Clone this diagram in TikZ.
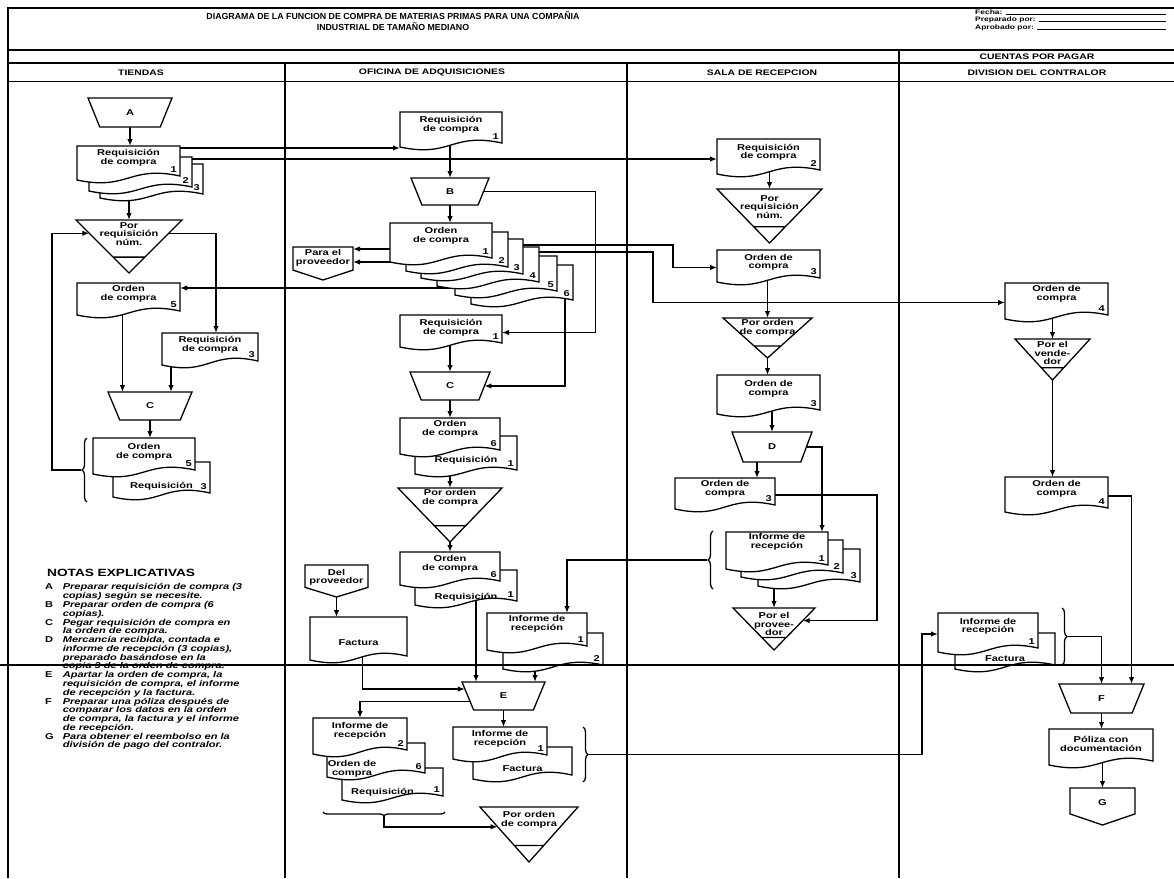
\documentclass[tikz,border=0pt]{standalone}
\usepackage{fontspec}
\usepackage{array}
\setmainfont{Liberation Sans}
\newfontfamily\docfam[FakeStretch=1.3]{Liberation Sans}
\usetikzlibrary{calc,arrows.meta,backgrounds,decorations.pathreplacing}

\newcommand\docf{\docfam\bfseries\fontsize{8.5}{8.5}\selectfont}
\newcommand\notef{\docfam\bfseries\fontsize{8.5}{8.6}\selectfont}
\newcommand\headf{\docfam\bfseries\fontsize{8}{9}\selectfont}
\newcommand\titlef{\bfseries\fontsize{8.8}{10.5}\selectfont}
\newcommand\smallf{\docfam\bfseries\fontsize{6.5}{8.5}\selectfont}

\makeatletter
\newdimen\shL \newdimen\shR \newdimen\shB \newdimen\shT \newdimen\shM
\newdimen\shI \newdimen\shY \newdimen\shYa \newdimen\shYb \newdimen\shYc
\def\shgetbox{\southwest \shL=\pgf@x \shB=\pgf@y
  \northeast \shR=\pgf@x \shT=\pgf@y
  \shM=.5\shL \advance\shM by .5\shR}
% document: flat top, wavy bottom
\pgfdeclareshape{docshape}{
  \inheritsavedanchors[from=rectangle]
  \inheritanchorborder[from=rectangle]
  \inheritanchor[from=rectangle]{center}
  \inheritanchor[from=rectangle]{north}
  \inheritanchor[from=rectangle]{east}
  \inheritanchor[from=rectangle]{west}
  \inheritanchor[from=rectangle]{north east}
  \inheritanchor[from=rectangle]{north west}
  \inheritanchor[from=rectangle]{south east}
  \inheritanchor[from=rectangle]{south west}
  \anchor{south}{\shgetbox \pgf@x=\shM \pgf@y=\shB \advance\pgf@y by 5pt}
  \backgroundpath{\shgetbox
    \shY=\shB \advance\shY by 7pt
    \shYa=\shB \advance\shYa by 18pt
    \shYb=\shB \advance\shYb by -8pt
    \shYc=\shB \advance\shYc by 3pt
    \pgfpathmoveto{\pgfqpoint{\shL}{\shT}}
    \pgfpathlineto{\pgfqpoint{\shR}{\shT}}
    \pgfpathlineto{\pgfqpoint{\shR}{\shY}}
    \pgfpathcurveto{\pgfqpoint{\shM}{\shYa}}{\pgfqpoint{\shM}{\shYb}}{\pgfqpoint{\shL}{\shYc}}
    \pgfpathclose}
}
% manual operation: wide side up
\pgfdeclareshape{manop}{
  \inheritsavedanchors[from=rectangle]
  \inheritanchorborder[from=rectangle]
  \inheritanchor[from=rectangle]{center}
  \inheritanchor[from=rectangle]{north}
  \inheritanchor[from=rectangle]{south}
  \inheritanchor[from=rectangle]{north east}
  \inheritanchor[from=rectangle]{north west}
  \anchor{east}{\shgetbox \shI=\shR \advance\shI by -\shL
    \pgf@x=\shR \advance\pgf@x by -.07\shI
    \pgf@y=.5\shB \advance\pgf@y by .5\shT}
  \anchor{west}{\shgetbox \shI=\shR \advance\shI by -\shL
    \pgf@x=\shL \advance\pgf@x by .07\shI
    \pgf@y=.5\shB \advance\pgf@y by .5\shT}
  \anchor{south east}{\shgetbox \shI=\shR \advance\shI by -\shL
    \pgf@x=\shR \advance\pgf@x by -.14\shI \pgf@y=\shB}
  \anchor{south west}{\shgetbox \shI=\shR \advance\shI by -\shL
    \pgf@x=\shL \advance\pgf@x by .14\shI \pgf@y=\shB}
  \backgroundpath{\shgetbox \shI=\shR \advance\shI by -\shL \shI=.14\shI
    \pgfpathmoveto{\pgfqpoint{\shL}{\shT}}
    \pgfpathlineto{\pgfqpoint{\shR}{\shT}}
    \advance\shR by -\shI \advance\shL by \shI
    \pgfpathlineto{\pgfqpoint{\shR}{\shB}}
    \pgfpathlineto{\pgfqpoint{\shL}{\shB}}
    \pgfpathclose}
}
% file: triangle with a bar near the apex
\pgfdeclareshape{filetri}{
  \inheritsavedanchors[from=rectangle]
  \inheritanchorborder[from=rectangle]
  \inheritanchor[from=rectangle]{center}
  \inheritanchor[from=rectangle]{north}
  \inheritanchor[from=rectangle]{south}
  \inheritanchor[from=rectangle]{north east}
  \inheritanchor[from=rectangle]{north west}
  \backgroundpath{\shgetbox
    \pgfpathmoveto{\pgfqpoint{\shL}{\shT}}
    \pgfpathlineto{\pgfqpoint{\shR}{\shT}}
    \pgfpathlineto{\pgfqpoint{\shM}{\shB}}
    \pgfpathclose
    \shI=\shR \advance\shI by -\shL \shI=.15\shI
    \shY=.7\shB \advance\shY by .3\shT
    \advance\shM by -\shI
    \pgfpathmoveto{\pgfqpoint{\shM}{\shY}}
    \advance\shM by 2\shI
    \pgfpathlineto{\pgfqpoint{\shM}{\shY}}}
}
% off-page connector
\pgfdeclareshape{offpage}{
  \inheritsavedanchors[from=rectangle]
  \inheritanchorborder[from=rectangle]
  \inheritanchor[from=rectangle]{center}
  \inheritanchor[from=rectangle]{north}
  \inheritanchor[from=rectangle]{south}
  \inheritanchor[from=rectangle]{east}
  \inheritanchor[from=rectangle]{west}
  \inheritanchor[from=rectangle]{north east}
  \inheritanchor[from=rectangle]{north west}
  \backgroundpath{\shgetbox
    \shY=.7\shB \advance\shY by .3\shT
    \pgfpathmoveto{\pgfqpoint{\shL}{\shT}}
    \pgfpathlineto{\pgfqpoint{\shR}{\shT}}
    \pgfpathlineto{\pgfqpoint{\shR}{\shY}}
    \pgfpathlineto{\pgfqpoint{\shM}{\shB}}
    \pgfpathlineto{\pgfqpoint{\shL}{\shY}}
    \pgfpathclose}
}
\makeatother

\tikzset{
  shp/.style={draw, fill=white, line width=1.3pt, inner sep=0pt, outer sep=0pt},
  docbox/.style={shp, shape=docshape},
  opbox/.style={shp, shape=manop, font=\docf},
  filebox/.style={shp, shape=filetri},
  pagebox/.style={shp, shape=offpage},
  dtext/.style={align=center, font=\docf, inner sep=0pt},
  dnum/.style={font=\docf, inner sep=0pt, anchor=south east},
  flow/.style={->, line width=1.4pt},
  brace/.style={decorate, decoration={brace, amplitude=5pt}, line width=1.3pt},
  frame/.style={line width=1.6pt},
  headtext/.style={font=\headf, inner sep=0pt},
  smalltext/.style={font=\smallf, inner sep=0pt, anchor=west}
}

% doc: name, position, width, height, text offset, text, number
\newcommand\docu[7]{%
  \node[docbox, minimum width=#3pt, minimum height=#4pt] (#1) at (#2) {};
  \node[dtext] (#1t) at ([shift={(#5)}]#1.north) {#6};
  \node[dnum] (#1n) at ([xshift=-3pt, yshift=10pt]#1.south east) {#7};}
% file: name, position, width, height, text offset, text
\newcommand\filet[6]{%
  \node[filebox, minimum width=#3pt, minimum height=#4pt] (#1) at (#2) {};
  \node[dtext] (#1t) at ([yshift=-#5pt]#1.north) {#6};}
% off-page: name, position, width, height, text offset, text
\newcommand\offp[6]{%
  \node[pagebox, minimum width=#3pt, minimum height=#4pt] (#1) at (#2) {};
  \node[dtext] (#1t) at ([yshift=-#5pt]#1.north) {#6};}

\begin{document}
\begin{tikzpicture}[x=1pt,y=-1pt,>={Latex[length=7pt,width=5.5pt]}]
  \useasboundingbox (0,0) rectangle (1174,878);

  % header
  \node[align=center, font=\titlef, inner sep=0pt] (title) at (393,21)
    {DIAGRAMA DE LA FUNCION DE COMPRA DE MATERIAS PRIMAS PARA UNA COMPAÑIA\\INDUSTRIAL DE TAMAÑO MEDIANO};
  \node[smalltext] (fecha) at (975,12) {Fecha:};
  \node[smalltext] (prep) at (975,20) {Preparado por:};
  \node[smalltext] (aprob) at (975,28) {Aprobado por:};
  \coordinate (hend) at (1166,0);
  \node[headtext] (hcxp) at (1037,57) {CUENTAS POR PAGAR};
  \node[headtext] (hti) at (141,72.5) {TIENDAS};
  \node[headtext] (hof) at (432,72.5) {OFICINA DE ADQUISICIONES};
  \node[headtext] (hsa) at (762,72.5) {SALA DE RECEPCION};
  \node[headtext] (hdi) at (1037,72.5) {DIVISION DEL CONTRALOR};

  % tiendas
  \node[opbox, minimum width=84pt, minimum height=29pt] (tA) at (130,112.5) {A};
  \docu{tR3}{151.5,182.5}{103}{37}{0,12}{}{3}
  \docu{tR2}{140.5,175.5}{103}{37}{0,12}{}{2}
  \docu{tR1}{128.5,164.5}{103}{37}{0,12}{Requisición\\de compra}{1}
  \filet{tF}{129,246.5}{106}{53}{14}{Por\\requisición\\núm.}
  \docu{tO5}{128.5,300.5}{103}{35}{0,11}{Orden\\de compra}{5}
  \docu{tR3b}{210,350.5}{96}{35}{0,12}{Requisición\\de compra}{3}
  \node[opbox, minimum width=84pt, minimum height=28pt] (tC) at (150,406) {C};
  \docu{tRq}{161.5,481}{97}{38}{0,24}{Requisición}{3}
  \docu{tO5b}{144,457.5}{102}{39}{0,14}{Orden\\de compra}{5}
  \draw[brace] (87,502) -- (87,438);
  \coordinate (tbr) at (81,470);

  \node[anchor=west, font=\docfam\bfseries\fontsize{10.5}{11}\selectfont, inner sep=0pt] (notas) at (47,573) {NOTAS EXPLICATIVAS};
  \node[anchor=north west, font=\notef, inner sep=0pt] (notaslista) at (45,583.5) {%
    \begin{tabular}{@{}>{\upshape}l@{\hspace{9pt}}>{\itshape}l@{}}
    A & Preparar requisición de compra (3\\
      & copias) según se necesite.\\
    B & Preparar orden de compra (6\\
      & copias).\\
    C & Pegar requisición de compra en\\
      & la orden de compra.\\
    D & Mercancía recibida, contada e\\
      & informe de recepción (3 copias),\\
      & preparado basándose en la\\
      & copia 3 de la orden de compra.\\
    E & Apartar la orden de compra, la\\
      & requisición de compra, el informe\\
      & de recepción y la factura.\\
    F & Preparar una póliza después de\\
      & comparar los datos en la orden\\
      & de compra, la factura y el informe\\
      & de recepción.\\
    G & Para obtener el reembolso en la\\
      & división de pago del contralor.
    \end{tabular}};

  % oficina de adquisiciones
  \docu{oR1}{451,131}{102}{38}{0,13}{Requisición\\de compra}{1}
  \node[opbox, minimum width=78pt, minimum height=27pt] (oB) at (450,191.5) {B};
  \docu{oO6}{522,286}{102}{42}{0,12}{}{6}
  \docu{oO5}{506,277}{102}{42}{0,12}{}{5}
  \docu{oO4}{488,268}{102}{42}{0,12}{}{4}
  \docu{oO3}{472,260}{102}{42}{0,12}{}{3}
  \docu{oO2}{457,253}{102}{42}{0,12}{}{2}
  \docu{oO1}{441,244}{102}{42}{0,13}{Orden\\de compra}{1}
  \offp{oPP}{323,263.5}{60}{33}{11}{Para el\\proveedor}
  \docu{oR1b}{451,332.5}{102}{35}{0,13}{Requisición\\de compra}{1}
  \node[opbox, minimum width=80pt, minimum height=28pt] (oC) at (450,386) {C};
  \docu{oRqa}{466,456.5}{102}{41}{0,24}{Requisición}{1}
  \docu{oO6a}{450,437.5}{100}{39}{0,11}{Orden\\de compra}{6}
  \filet{oF1}{450,515}{104}{54}{10}{Por orden\\de compra}
  \docu{oRqb}{466,589}{102}{38}{0,27}{Requisición}{1}
  \docu{oO6b}{450,570}{100}{36}{0,12}{Orden\\de compra}{6}
  \offp{oDP}{336.5,581}{63}{32}{12.5}{Del\\proveedor}
  \docu{oFa}{358.5,640}{97}{46}{0,26}{Factura}{}
  \docu{oI2}{553,652.5}{100}{39}{0,12}{}{2}
  \docu{oI1}{537,633}{100}{40}{0,11}{Informe de\\recepción}{1}
  \node[opbox, minimum width=83pt, minimum height=28pt] (oE) at (503.5,696) {E};
  \docu{oRqc}{392.5,785.5}{101}{35}{-10,24}{Requisición}{1}
  \docu{oO6c}{376,761.5}{98}{37}{-24,26}{Orden de\\compra}{6}
  \docu{oI2b}{360,737.5}{94}{39}{0,13}{Informe de\\recepción}{2}
  \docu{oFab}{522.5,764.5}{99}{35}{0,22}{Factura}{}
  \docu{oI1b}{500,744.5}{94}{35}{0,12}{Informe de\\recepción}{1}
  \draw[brace] (583,727) -- (583,782);
  \coordinate (obr) at (589,754.5);
  \draw[brace, decoration={mirror, amplitude=4pt}] (323,812) -- (445,812);
  \coordinate (obr2) at (384,816);
  \filet{oF2}{529,834.5}{98}{55}{13}{Por orden\\de compra}

  % sala de recepcion
  \docu{sR2}{768.5,158}{103}{38}{0,13.5}{Requisición\\de compra}{2}
  \filet{sF1}{769.5,216}{105}{54}{18}{Por\\requisición\\núm.}
  \docu{sO3}{768.5,267.5}{103}{35}{0,12.5}{Orden de\\compra}{3}
  \filet{sF2}{767.5,338}{89}{40}{10}{Por orden\\de compra}
  \docu{sO3b}{768.5,396}{103}{42}{0,14}{Orden de\\compra}{3}
  \node[opbox, minimum width=80pt, minimum height=30pt] (sD) at (772,447) {D};
  \docu{sO3c}{725,495}{100}{34}{0,11}{Orden de\\compra}{3}
  \docu{sI3}{809,569}{102}{40}{0,12}{}{3}
  \docu{sI2}{792,560}{102}{40}{0,12}{}{2}
  \docu{sI1}{777,552}{102}{40}{0,10}{Informe de\\recepción}{1}
  \draw[brace] (713,589) -- (713,531);
  \coordinate (sbr) at (707,560);
  \filet{sF3}{774,629}{82}{42}{16}{Por el\\provee-\\dor}

  % division del contralor
  \docu{cO4}{1056.5,302.5}{103}{39}{0,11}{Orden de\\compra}{4}
  \filet{cF1}{1052.5,359.5}{75}{41}{14}{Por el\\vende-\\dor}
  \docu{cO4b}{1056.5,496}{103}{38}{0,12}{Orden de\\compra}{4}
  \docu{cFa}{1005,652.5}{100}{39}{0,26}{Factura}{}
  \docu{cI1}{988,634}{100}{42}{0,13.5}{Informe de\\recepción}{1}
  \draw[brace] (1062,608) -- (1062,665);
  \coordinate (cbr) at (1068,636.5);
  \node[opbox, minimum width=85pt, minimum height=29pt] (cF) at (1101.5,698.5) {F};
  \docu{cP}{1101,748.5}{104}{39}{0,15}{Póliza con\\documentación}{}
  \offp{cG}{1102.5,806.5}{65}{37}{15}{G}

  \begin{scope}[on background layer]
    % frame
    \draw[frame] (8,878) -- (8,8) -- (1174,8);
    \draw[frame] (8,50) -- (1174,50);
    \draw[frame] (8,63) -- (1174,63);
    \draw[frame] (8,81.5) -- (1174,81.5);
    \draw[frame] (285,63) -- (285,878);
    \draw[frame] (627,63) -- (627,878);
    \draw[frame] (899,50) -- (899,878);
    \draw[line width=0.6pt] ([xshift=3pt]fecha.base east) -- (fecha.base east -| hend);
    \draw[line width=0.6pt] ([xshift=3pt]prep.base east) -- (prep.base east -| hend);
    \draw[line width=0.6pt] ([xshift=3pt]aprob.base east) -- (aprob.base east -| hend);

    % tiendas
    \draw[flow] (tA.south) -- (tA.south |- tR1.north);
    \draw[flow] (tF.north |- tR3.center) -- (tF.north);
    \draw[flow] ([yshift=-2pt]tR1.north east) -- ([yshift=-2pt]tR1.north east -| oR1.west);
    \draw[flow] ([yshift=-2pt]tR2.north east) -- ([yshift=-2pt]tR2.north east -| sR2.west);
    \draw[flow] (tbr) -- ++(-29,0) |- ($(tF.north west)!0.25!(tF.south)$);
    \draw[flow] ($(tF.north east)!0.25!(tF.south)$) -| ([xshift=6pt]tR3b.north);
    \draw[flow] ([xshift=-6pt]tO5.center) -- ([xshift=-6pt]tO5.center |- tC.north);
    \draw[flow] ([xshift=-39pt]tR3b.center) -- ([xshift=-39pt]tR3b.center |- tC.north);
    \draw[flow] (tC.south) -- (tC.south |- tO5b.north);

    % oficina
    \draw[flow] (oB.north |- oR1.center) -- (oB.north);
    \draw[flow] (oB.south) -- (oB.south |- oO1.north);
    \draw[flow] (oB.east) -- ++(112,0) |- (oR1b.east);
    \draw[flow] ([yshift=-5pt]oO1.west) -- ([yshift=-5pt]oO1.west -| oPP.east);
    \draw[flow] ([yshift=-9pt]oO2.west) -- ([yshift=-9pt]oO2.west -| oPP.east);
    \draw[flow] ([yshift=-11pt]oO5.west) -- ([yshift=-11pt]oO5.west -| tO5.east);
    \draw[flow] ([yshift=-6pt]oO3.north east) -- ++(150,0) |- (sO3.west);
    \draw[flow] ([yshift=-5pt]oO4.north east) -- ++(114,0) |- (cO4.west);
    \draw[flow] ([xshift=-8pt]oO6.east) |- (oC.east);
    \draw[flow] (oC.north |- oR1b.center) -- (oC.north);
    \draw[flow] (oC.south) -- (oC.south |- oO6a.north);
    \draw[flow] (oF1.north |- oRqa.center) -- (oF1.north);
    \draw[flow] (oF1.south) -- (oF1.south |- oO6b.north);
    \draw[flow] ([xshift=10pt]oRqb.center) -- ([xshift=10pt]oRqb.center |- oE.north);
    \draw[flow] (oDP.south) -- (oDP.south |- oFa.north);
    \draw[flow] ([xshift=4pt]oFa.center) |- ($(oE.north west)!0.25!(oE.south west)$);
    \draw[flow] (sbr) -| ([xshift=30pt]oI1.north);
    \draw[flow] ([xshift=-18pt]oI2.center) -- ([xshift=-18pt]oI2.center |- oE.north);
    \draw[flow] ($(oE.north west)!0.7!(oE.south west)$) -| (oI2b.north);
    \draw[flow] (oE.south) -- (oE.south |- oI1b.north);
    \draw[flow] (obr) -- ++(333,0) |- (cI1.west);
    \draw[flow] (obr2) |- ($(oF2.north west)!0.36!(oF2.south)$);

    % sala
    \draw[flow] (sF1.north |- sR2.center) -- (sF1.north);
    \draw[flow] (sF2.north |- sO3.center) -- (sF2.north);
    \draw[flow] (sF2.south) -- (sF2.south |- sO3b.north);
    \draw[flow] (sD.north |- sO3b.center) -- (sD.north);
    \draw[flow] ([xshift=-15pt]sD.south) -- ([xshift=-15pt]sD.south |- sO3c.north);
    \draw[flow] (sD.east) -| ([xshift=45pt]sI1.north);
    \draw[flow] (sO3c.east) -- ++(102,0) |- ($(sF3.north east)!0.3!(sF3.south)$);
    \draw[flow] (sF3.north |- sI3.center) -- (sF3.north);

    % contralor
    \draw[flow] (cF1.north |- cO4.center) -- (cF1.north);
    \draw[flow] (cF1.south) -- (cF1.south |- cO4b.north);
    \draw[flow] (cO4b.east) -| ([xshift=30pt]cF.north);
    \draw[flow] (cbr) -| (cF.north);
    \draw[flow] (cF.south) -- (cF.south |- cP.north);
    \draw[flow] (cG.north |- cP.center) -- (cG.north);
  \end{scope}

  % joint of the two scanned halves
  \draw[line width=1.2pt] (0,665) -- (1174,665);
\end{tikzpicture}
\end{document}
